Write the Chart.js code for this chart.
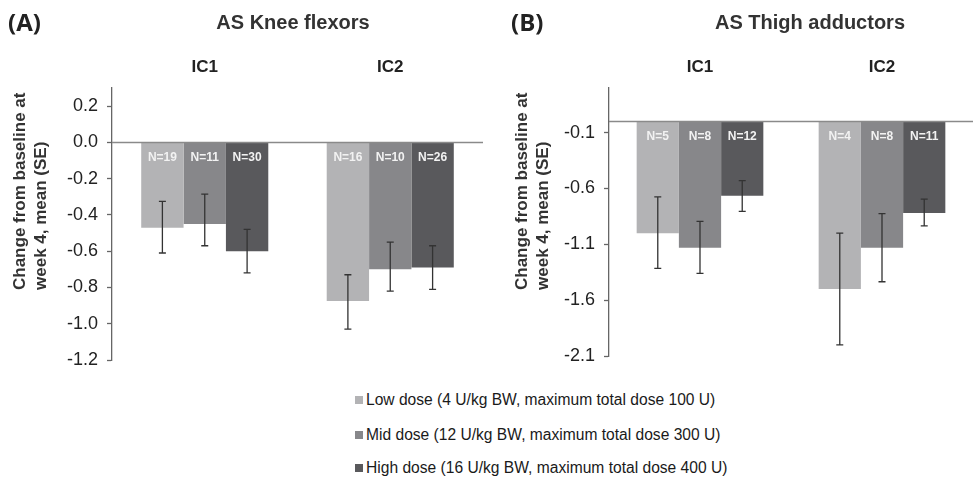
<html>
<head>
<script src="https://cdn.jsdelivr.net/npm/chart.js@4"></script>
<style>
  body { margin: 0; background: #fff; font-family: "Liberation Sans", Arial, sans-serif; color: #222; }
  #page { position: relative; width: 973px; height: 480px; overflow: hidden; }
  .box { position: absolute; }
  .panelTag { position: absolute; font: bold 24px "Open Sans", sans-serif; line-height: 32px; color: #222; }
  .panelTitle { position: absolute; width: 300px; text-align: center; font: bold 20px "Liberation Sans", Arial, sans-serif; line-height: 24px; color: #333; }
  .yTitle { position: absolute; width: 42px; height: 203px; writing-mode: vertical-rl; transform: rotate(180deg);
            font: bold 17px "Liberation Sans", Arial, sans-serif; line-height: 21px; color: #333; text-align: start; white-space: nowrap; }
  #legend { position: absolute; left: 355px; top: 390px; }
  .legRow { position: absolute; left: 0; height: 20px; white-space: nowrap; font: 15.6px "Liberation Sans", Arial, sans-serif; color: #1a1a1a; line-height: 20px; }
  .legRow span.sw { display: inline-block; width: 8px; height: 8px; margin-right: 3px; vertical-align: 1px; }
</style>
<script>
    // groups and doses
    var groups = ["IC1", "IC2"];
    var doseNames = [
        "Low dose (4 U/kg BW, maximum total dose 100 U)",
        "Mid dose (12 U/kg BW, maximum total dose 300 U)",
        "High dose (16 U/kg BW, maximum total dose 400 U)"
    ];
    var doseColors = ["#b3b3b5", "#87878a", "#59595c"];

    // (A) AS Knee flexors: means, error bar ends, N
    var kneeLow = [-0.47, -0.875];
    var kneeMid = [-0.45, -0.70];
    var kneeHigh = [-0.60, -0.69];
    var kneeErrTop = [[-0.325, -0.73], [-0.285, -0.55], [-0.48, -0.57]];
    var kneeErrBot = [[-0.61, -1.03], [-0.57, -0.82], [-0.72, -0.81]];
    var kneeN = [[19, 16], [11, 10], [30, 26]];
    var kneeTicks = [0.2, 0.0, -0.2, -0.4, -0.6, -0.8, -1.0, -1.2];

    // (B) AS Thigh adductors
    var thighLow = [-1.0, -1.5];
    var thighMid = [-1.13, -1.13];
    var thighHigh = [-0.665, -0.82];
    var thighErrTop = [[-0.675, -1.0], [-0.895, -0.825], [-0.53, -0.695]];
    var thighErrBot = [[-1.315, -2.0], [-1.36, -1.435], [-0.805, -0.935]];
    var thighN = [[5, 4], [8, 8], [12, 11]];
    var thighTicks = [-0.1, -0.6, -1.1, -1.6, -2.1];

    // draws zero line, error bars and N= labels on top of the bars
    var extrasPlugin = {
        id: "extras",
        afterDatasetsDraw: function(chart, args, opts) {
            var ctx = chart.ctx;
            var y = chart.scales.y;
            var area = chart.chartArea;
            var zero = y.getPixelForValue(0);

            ctx.save();
            ctx.strokeStyle = "#8a8a8a";
            ctx.lineWidth = 1.5;
            ctx.beginPath();
            ctx.moveTo(area.left, zero);
            ctx.lineTo(area.right, zero);
            ctx.stroke();

            for (var i = 0; i < chart.data.datasets.length; i++) {
                var meta = chart.getDatasetMeta(i);
                for (var j = 0; j < meta.data.length; j++) {
                    var bar = meta.data[j];
                    var t = y.getPixelForValue(opts.top[i][j]);
                    var b = y.getPixelForValue(opts.bot[i][j]);
                    ctx.strokeStyle = "#333";
                    ctx.lineWidth = 1.3;
                    ctx.beginPath();
                    ctx.moveTo(bar.x, t); ctx.lineTo(bar.x, b);
                    ctx.moveTo(bar.x - 3.5, t); ctx.lineTo(bar.x + 3.5, t);
                    ctx.moveTo(bar.x - 3.5, b); ctx.lineTo(bar.x + 3.5, b);
                    ctx.stroke();

                    ctx.fillStyle = "#f2f2f2";
                    ctx.font = "bold 12px 'Liberation Sans', Arial, sans-serif";
                    ctx.textAlign = "center";
                    ctx.textBaseline = "middle";
                    ctx.fillText("N=" + opts.n[i][j], bar.x, zero + 15);
                }
            }
            ctx.restore();
        }
    };

    function make_chart(id, series, errTop, errBot, nList, ticks, yMin, axisWidth, pad, catPct) {
        var datasets = [];
        for (var i = 0; i < series.length; i++) {
            datasets.push({
                label: doseNames[i],
                data: series[i],
                backgroundColor: doseColors[i],
                borderWidth: 0,
                categoryPercentage: catPct,
                barPercentage: 1.0
            });
        }

        var ctx = document.getElementById(id).getContext("2d");
        return new Chart(ctx, {
            type: "bar",
            data: { labels: groups, datasets: datasets },
            options: {
                responsive: false,
                animation: false,
                layout: { padding: pad },
                plugins: {
                    legend: { display: false },
                    tooltip: { enabled: false },
                    extras: { top: errTop, bot: errBot, n: nList }
                },
                scales: {
                    x: {
                        position: "top",
                        grid: { display: false, drawTicks: false },
                        border: { display: false },
                        ticks: {
                            padding: 10,
                            color: "#222",
                            font: { family: "'Liberation Sans', Arial, sans-serif", size: 17, weight: "bold" }
                        },
                        afterFit: function(axis) { axis.height = 88; }
                    },
                    y: {
                        min: yMin,
                        max: 0.3,
                        grid: { drawOnChartArea: false, tickColor: "#666", tickLength: 5, tickWidth: 1.3 },
                        border: { color: "#666", width: 1.3 },
                        ticks: {
                            padding: 9,
                            color: "#222",
                            font: { family: "'Liberation Sans', Arial, sans-serif", size: 18 },
                            callback: function(v) { return Number(v).toFixed(1); }
                        },
                        afterBuildTicks: function(axis) {
                            axis.ticks = ticks.slice().sort(function(a, b) { return a - b; })
                                .map(function(v) { return { value: v }; });
                        },
                        afterFit: function(axis) { axis.width = axisWidth; }
                    }
                }
            },
            plugins: [extrasPlugin]
        });
    }

    function build_legend() {
        var leg = document.getElementById("legend");
        var rowTops = [0, 35, 68];
        for (var i = 0; i < doseNames.length; i++) {
            var row = document.createElement("div");
            row.className = "legRow";
            row.style.top = rowTops[i] + "px";
            var sw = document.createElement("span");
            sw.className = "sw";
            sw.style.background = doseColors[i];
            row.appendChild(sw);
            row.appendChild(document.createTextNode(doseNames[i]));
            leg.appendChild(row);
        }
    }

    function load() {
        make_chart("chartA", [kneeLow, kneeMid, kneeHigh], kneeErrTop, kneeErrBot, kneeN, kneeTicks,
            -1.2, 112, { top: 0, right: 7, bottom: 20, left: 0 }, 0.685);
        make_chart("chartB", [thighLow, thighMid, thighHigh], thighErrTop, thighErrBot, thighN, thighTicks,
            -2.1, 119, { top: 0, right: 0, bottom: 24, left: 0 }, 0.696);
        build_legend();
    }
</script>
</head>
<body>
<div id="page">
    <div class="box" style="left:0; top:0;"><canvas id="chartA" width="490" height="380"></canvas></div>
    <div class="box" style="left:490px; top:0;"><canvas id="chartB" width="483" height="380"></canvas></div>

    <div class="panelTag" style="left:8px; top:6px;">(A)</div>
    <div class="panelTitle" style="left:143px; top:10px;">AS Knee flexors</div>
    <div class="yTitle" style="left:9px; top:87px;">Change from baseline at<br>week 4, mean (SE)</div>

    <div class="panelTag" style="left:511px; top:6px;">(B)</div>
    <div class="panelTitle" style="left:660px; top:10px;">AS Thigh adductors</div>
    <div class="yTitle" style="left:511px; top:87px;">Change from baseline at<br>week 4, mean (SE)</div>

    <div id="legend"></div>
</div>
<script>load();</script>
</body>
</html>
